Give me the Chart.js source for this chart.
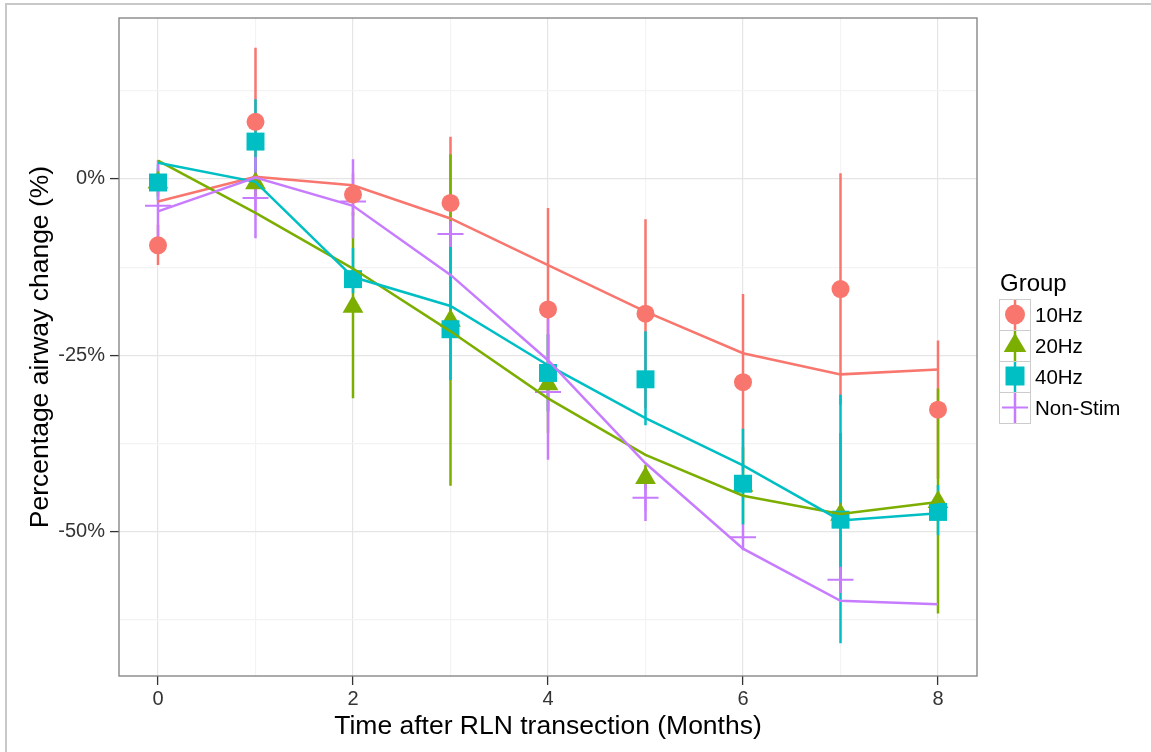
<!DOCTYPE html>
<html>
<head>
<meta charset="utf-8">
<script src="https://cdn.jsdelivr.net/npm/chart.js@4.4.1/dist/chart.umd.min.js"></script>
<style>
body { margin: 0; background: #fff; }
#wrap { position: relative; width: 1151px; height: 752px; overflow: hidden; }
#frame { position: absolute; left: 5px; top: 3px; width: 1200px; height: 800px; border-top: 2px solid #c8c8c8; border-left: 2px solid #c8c8c8; }
#chart { position: absolute; left: 0; top: 0; }
#legend { position: absolute; left: 999px; top: 271px; font-family: 'Liberation Sans', Arial, sans-serif; color: #000; }
#legend .title { font-size: 24px; line-height: 24px; height: 28px; margin-left: 1px; }
#legend .row { display: flex; align-items: center; height: 31px; }
#legend .row svg { display: block; }
#legend .row span { font-size: 20.5px; margin-left: 4px; }
</style>
</head>
<body>
<div id="wrap">
  <div id="frame"></div>
  <canvas id="chart" width="1151" height="752"></canvas>
  <div id="legend"><div class="title">Group</div></div>
</div>
<script>
const months = [0, 1, 2, 3, 4, 5, 6, 7, 8]

// x ticks: grid at every month, labels only on even months
const xGrid = [0, 1, 2, 3, 4, 5, 6, 7, 8]
const xMajor = [0, 2, 4, 6, 8]
const xTickLabels = ['0', '2', '4', '6', '8']

const yGrid = [-62.5, -50, -37.5, -25, -12.5, 0, 12.5]
const yMajor = [-50, -25, 0]
const yTickLabels = ['-50%', '-25%', '0%']

// 10Hz
const mean10 = [-9.4, 8.1, -2.2, -3.4, -18.5, -19.1, -28.8, -15.6, -32.7]
const lo10 = [-12.2, -2.4, -5.2, -12.8, -32.9, -32.5, -41.3, -32.0, -42.5]
const hi10 = [-6.5, 18.6, 0.8, 6.0, -4.1, -5.7, -16.3, 0.8, -22.9]
const fit10 = [-3.2, 0.3, -0.9, -5.6, -12.2, -18.8, -24.7, -27.7, -27.0]

// 20Hz
const mean20 = [-0.5, -0.6, -18.1, -20.1, -29.1, -42.4, -43.5, -47.6, -45.8]
const lo20 = [-2.5, -2.3, -31.1, -43.5, -36.0, -44.0, -49.0, -58.0, -61.6]
const hi20 = [1.5, 1.5, -4.7, 3.5, -22.0, -40.5, -38.0, -36.0, -29.7]
const fit20 = [2.6, -4.8, -12.7, -21.6, -31.1, -39.1, -44.9, -47.5, -45.8]

// 40Hz
const mean40 = [-0.5, 5.3, -14.2, -21.3, -27.5, -28.4, -43.2, -48.3, -47.2]
const lo40 = [-3.0, -0.7, -16.2, -28.5, -33.0, -34.9, -49.1, -65.8, -50.5]
const hi40 = [2.0, 11.3, -9.8, -9.6, -22.0, -21.6, -35.4, -30.6, -43.4]
const fit40 = [2.3, -0.4, -13.9, -18.0, -26.4, -33.9, -40.6, -48.4, -47.4]

// Non-Stim
const meanNS = [-3.8, -2.7, -3.2, -7.8, -30.2, -45.2, -50.8, -56.8, null]
const loNS = [-10.3, -8.4, -8.4, -9.6, -39.8, -48.5, -52.6, -58.7, null]
const hiNS = [2.7, 3.1, 2.8, -6.2, -19.8, -42.0, -49.1, -55.2, null]
const fitNS = [-4.6, 0.2, -3.8, -13.6, -25.7, -40.3, -52.4, -59.8, -60.3]

const series = [
    { name: '10Hz', color: '#F8766D', mean: mean10, lo: lo10, hi: hi10, fit: fit10, shape: 'circle', radius: 9, pointOrder: 4 },
    { name: '20Hz', color: '#7CAE00', mean: mean20, lo: lo20, hi: hi20, fit: fit20, shape: 'triangle', radius: 12, pointOrder: 6 },
    { name: '40Hz', color: '#00BFC4', mean: mean40, lo: lo40, hi: hi40, fit: fit40, shape: 'rect', radius: 12.7, pointOrder: 5 },
    { name: 'Non-Stim', color: '#C77CFF', mean: meanNS, lo: loNS, hi: hiNS, fit: fitNS, shape: 'cross', radius: 13, pointOrder: 7 },
]

const FONT = "'Liberation Sans', Arial, sans-serif"
Chart.defaults.font.family = FONT

function xy(values) {
    return months.map((m, i) => ({ x: m, y: values[i] }))
}

// one vertical segment per month, broken by nulls
function errorBars(lo, hi) {
    let pts = []
    months.forEach((m, i) => {
        pts.push({ x: m, y: lo[i] }, { x: m, y: hi[i] }, { x: m, y: null })
    })
    return pts
}

let datasets = []
series.forEach((s, k) => {
    datasets.push({
        label: s.name + ' error',
        data: errorBars(s.lo, s.hi),
        borderColor: s.color,
        borderWidth: 2.5,
        borderCapStyle: 'butt',
        pointRadius: 0,
        spanGaps: false,
        order: 11 - k,
    })
    datasets.push({
        label: s.name,
        data: xy(s.mean),
        showLine: false,
        pointStyle: s.shape,
        pointRadius: s.radius,
        pointHoverRadius: s.radius,
        pointBackgroundColor: s.color,
        pointBorderColor: s.color,
        pointBorderWidth: s.shape === 'cross' ? 2 : 0,
        order: s.pointOrder,
    })
    datasets.push({
        label: s.name + ' fit',
        data: xy(s.fit),
        borderColor: s.color,
        borderWidth: 2.5,
        pointRadius: 0,
        tension: 0,
        order: 3 - k,
    })
})

const panelBorder = {
    id: 'panelBorder',
    afterDraw(chart) {
        const { ctx, chartArea: a } = chart
        ctx.save()
        ctx.strokeStyle = '#7f7f7f'
        ctx.lineWidth = 1.3
        ctx.strokeRect(a.left, a.top, a.right - a.left, a.bottom - a.top)
        ctx.restore()
    }
}

const ctx = document.getElementById('chart').getContext('2d')
const chart = new Chart(ctx, {
    type: 'line',
    data: { datasets: datasets },
    options: {
        responsive: false,
        animation: false,
        devicePixelRatio: 1,
        layout: { padding: { left: 0, top: 18, right: 174, bottom: 0 } },
        plugins: {
            legend: { display: false },
            tooltip: { enabled: false },
        },
        scales: {
            x: {
                type: 'linear',
                min: -0.4,
                max: 8.4,
                afterBuildTicks: axis => { axis.ticks = xGrid.map(v => ({ value: v })) },
                afterFit: scale => { scale.height = 76 },
                border: { display: false },
                grid: {
                    color: c => (c.tick && xMajor.includes(c.tick.value)) ? '#e5e5e5' : '#f3f3f3',
                    lineWidth: 1.2,
                    tickColor: c => (c.tick && xMajor.includes(c.tick.value)) ? '#333333' : 'rgba(0,0,0,0)',
                    tickLength: 9,
                    tickWidth: 1.3,
                },
                ticks: {
                    autoSkip: false,
                    maxRotation: 0,
                    padding: 4,
                    color: '#333333',
                    font: { size: 20, lineHeight: 1 },
                    callback: v => {
                        let i = xMajor.indexOf(v)
                        return i >= 0 ? xTickLabels[i] : ''
                    },
                },
                title: {
                    display: true,
                    text: 'Time after RLN transection (Months)',
                    color: '#000',
                    font: { size: 26.5 },
                    padding: { top: 0, bottom: 9 },
                },
            },
            y: {
                type: 'linear',
                min: -70.46,
                max: 22.82,
                afterBuildTicks: axis => { axis.ticks = yGrid.map(v => ({ value: v })) },
                afterFit: scale => { scale.width = 119 },
                border: { display: false },
                grid: {
                    color: c => (c.tick && yMajor.includes(c.tick.value)) ? '#e5e5e5' : '#f3f3f3',
                    lineWidth: 1.2,
                    tickColor: c => (c.tick && yMajor.includes(c.tick.value)) ? '#333333' : 'rgba(0,0,0,0)',
                    tickLength: 9,
                    tickWidth: 1.3,
                },
                ticks: {
                    autoSkip: false,
                    padding: 5,
                    color: '#333333',
                    font: { size: 20, lineHeight: 1 },
                    callback: v => {
                        let i = yMajor.indexOf(v)
                        return i >= 0 ? yTickLabels[i] : ''
                    },
                },
                title: {
                    display: true,
                    text: 'Percentage airway change (%)',
                    color: '#000',
                    font: { size: 26.5 },
                    padding: { top: 25, bottom: 0 },
                },
            },
        },
    },
    plugins: [panelBorder],
})

// legend keys in the ggplot style: grey box, error bar and point shape
function keySvg(s) {
    let c = s.color
    let shape = ''
    if (s.shape === 'circle') {
        shape = `<circle cx="16" cy="15.5" r="10" fill="${c}"/>`
    } else if (s.shape === 'triangle') {
        shape = `<polygon points="16,3 27.3,22 4.7,22" fill="${c}"/>`
    } else if (s.shape === 'rect') {
        shape = `<rect x="6.5" y="5.5" width="19" height="19" fill="${c}"/>`
    } else {
        shape = `<line x1="3" y1="15.5" x2="29" y2="15.5" stroke="${c}" stroke-width="2"/>`
    }
    return `<rect x="0.5" y="0.5" width="31" height="31" fill="#fff" stroke="#cccccc"/>` +
        `<line x1="16" y1="1" x2="16" y2="31" stroke="${c}" stroke-width="2.5"/>` + shape
}

const legend = document.getElementById('legend')
series.forEach((s, k) => {
    let row = document.createElement('div')
    row.className = 'row'
    let h = k === series.length - 1 ? 32 : 31
    row.innerHTML = `<svg width="32" height="${h}">${keySvg(s)}</svg><span>${s.name}</span>`
    legend.appendChild(row)
})
</script>
</body>
</html>
